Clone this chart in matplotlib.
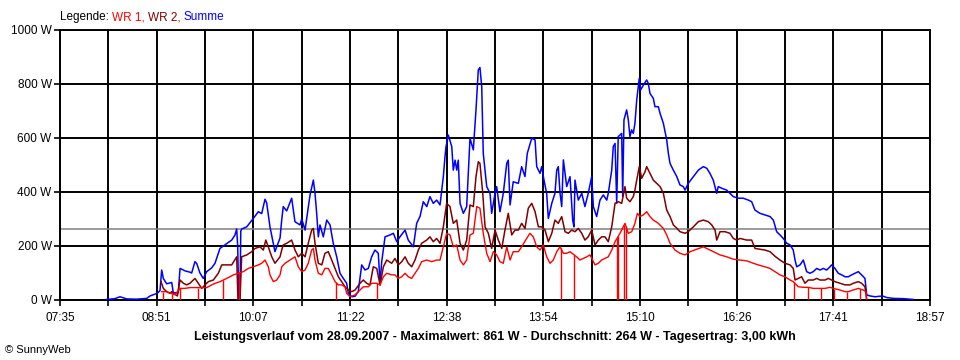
import numpy as np
import matplotlib
matplotlib.use("Agg")
import matplotlib.pyplot as plt
from matplotlib.offsetbox import TextArea, HPacker, AnchoredOffsetbox

# time in minutes after midnight, power in W
summe_t = [491.6, 498.1, 502.0, 507.3, 515.1, 523.0, 525.6, 531.3, 533.4, 534.7, 536.0, 538.6, 542.6, 543.8,
           547.7, 549.1, 553.0, 556.9, 558.2, 560.8, 562.2, 564.7, 567.3, 570.0, 573.9, 576.5, 580.4, 584.3,
           589.6, 592.2, 593.5, 594.3, 595.1, 596.1, 596.7, 597.4, 601.4, 606.5, 610.5, 613.1, 615.7, 617.0,
           619.6, 622.2, 623.5, 627.5, 628.8, 630.0, 632.7, 636.6, 639.2, 643.1, 644.5, 647.1, 648.4, 651.0,
           653.6, 654.9, 656.2, 657.5, 658.8, 661.4, 664.1, 666.7, 669.2, 671.9, 674.5, 677.1, 679.7, 681.0,
           683.7, 686.3, 688.8, 691.5, 694.1, 696.7, 699.3, 701.9, 704.5, 705.9, 707.2, 709.8, 713.7, 716.3,
           719.0, 721.5, 725.5, 728.0, 732.0, 734.6, 737.2, 739.8, 742.5, 745.0, 747.6, 750.3, 752.9, 755.5,
           756.8, 757.6, 759.4, 762.1, 763.3, 764.7, 766.0, 767.2, 768.6, 771.2, 773.8, 776.4, 779.0, 781.1,
           782.9, 784.2, 785.6, 786.8, 789.5, 792.1, 793.4, 796.0, 797.3, 799.9, 802.5, 805.2, 806.4, 807.8,
           810.3, 814.3, 816.9, 819.5, 821.3, 824.8, 827.4, 828.7, 831.3, 832.6, 834.4, 836.5, 837.8, 840.5,
           843.0, 844.4, 845.6, 847.0, 848.3, 849.6, 852.2, 854.8, 856.9, 857.9, 858.7, 861.3, 864.0, 866.5,
           869.1, 871.8, 873.1, 875.7, 878.3, 880.9, 883.6, 884.8, 887.5, 888.7, 890.1, 891.4, 892.6, 895.3,
           896.1, 897.1, 899.2, 900.5, 901.8, 903.1, 904.4, 905.7, 907.1, 909.1, 910.2, 912.3, 914.9, 916.2,
           917.5, 920.1, 921.4, 924.0, 925.4, 928.0, 930.6, 931.9, 933.2, 935.8, 938.5, 941.0, 943.6, 945.0,
           947.5, 951.5, 955.4, 959.3, 962.0, 964.5, 967.1, 969.8, 971.0, 973.7, 977.6, 980.2, 982.8, 986.7,
           990.6, 994.6, 997.2, 999.8, 1003.7, 1007.6, 1011.6, 1014.2, 1016.8, 1019.4, 1022.0, 1024.7, 1027.3,
           1029.8, 1031.2, 1032.5, 1035.1, 1037.7, 1040.3, 1042.9, 1045.5, 1048.2, 1050.8, 1053.4, 1056.0,
           1058.6, 1059.9, 1062.5, 1065.1, 1067.8, 1070.4, 1072.9, 1075.6, 1078.2, 1080.8, 1083.4, 1086.0,
           1087.4, 1090.0, 1093.9, 1097.8, 1100.4, 1103.1, 1108.2, 1116.1, 1123.9]
summe_w = [2, 5, 12, 4, 3, 6, 15, 25, 35, 111, 80, 60, 65, 27,
           27, 117, 108, 103, 100, 142, 135, 100, 80, 105, 119, 136, 191, 204,
           222, 241, 263, 200, 0, 0, 255, 263, 271, 302, 327, 320, 373, 360,
           271, 210, 179, 230, 296, 346, 330, 377, 290, 278, 300, 259, 302, 389,
           444, 395, 321, 234, 278, 234, 296, 278, 210, 160, 99, 80, 62, 25,
           12, 14, 31, 130, 111, 117, 160, 185, 173, 62, 142, 234, 241, 247,
           216, 234, 259, 222, 197, 284, 309, 364, 346, 383, 358, 370, 352, 457,
           531, 568, 611, 568, 481, 518, 481, 518, 358, 321, 346, 599, 556, 704,
           852, 861, 790, 543, 420, 395, 321, 395, 420, 327, 395, 506, 518, 352,
           438, 432, 494, 457, 543, 599, 593, 494, 469, 494, 444, 395, 302, 358,
           395, 481, 494, 395, 346, 519, 420, 457, 296, 271, 444, 370, 395, 346,
           395, 457, 346, 309, 370, 389, 370, 395, 481, 568, 580, 358, 605, 617,
           383, 667, 704, 667, 605, 630, 617, 654, 741, 821, 778, 796, 815, 802,
           765, 747, 716, 716, 691, 654, 593, 543, 506, 481, 457, 426, 420, 407,
           432, 457, 481, 494, 488, 469, 444, 395, 420, 414, 407, 395, 383, 377,
           377, 370, 364, 333, 321, 315, 309, 296, 253, 241, 228, 210, 204,
           185, 148, 123, 130, 148, 105, 99, 105, 117, 111, 117, 111,
           123, 130, 117, 99, 93, 86, 86, 93, 99, 105, 93, 80,
           19, 15, 12, 14, 14, 9, 6, 5, 2]

wr2_t = [534.2, 536.0, 538.6, 541.2, 542.6, 543.8, 547.0, 549.1, 551.7, 554.3, 556.9, 560.8, 563.4, 566.1,
         568.7, 571.3, 575.2, 579.1, 581.8, 585.7, 589.6, 593.5, 594.5, 596.1, 597.4, 601.4, 605.3, 607.9,
         611.8, 614.4, 616.3, 618.3, 621.0, 623.5, 627.5, 628.8, 630.0, 632.7, 636.6, 639.2, 641.8, 644.5,
         647.1, 649.6, 652.3, 653.6, 654.9, 656.2, 657.5, 660.2, 662.7, 665.3, 668.0, 670.6, 673.2, 675.8,
         678.4, 681.0, 683.7, 686.3, 690.2, 692.8, 695.4, 698.0, 700.6, 703.3, 705.9, 708.5, 711.1, 715.0,
         717.6, 720.2, 722.9, 725.5, 728.0, 730.7, 733.3, 735.9, 738.5, 742.5, 745.0, 747.6, 750.3, 752.9,
         755.5, 758.1, 760.7, 763.3, 766.0, 768.6, 771.2, 773.8, 776.4, 779.0, 781.1, 782.9, 784.2, 786.4,
         788.2, 790.8, 793.4, 796.0, 798.6, 801.3, 803.8, 806.4, 809.1, 811.7, 814.3, 816.9, 819.5, 822.1,
         824.8, 827.4, 830.0, 832.6, 835.2, 837.8, 840.5, 843.0, 845.6, 848.3, 850.9, 853.5, 856.1, 858.7,
         861.3, 864.0, 866.5, 869.1, 871.8, 874.4, 877.0, 879.6, 882.2, 884.8, 887.5, 890.1, 892.6, 895.3,
         897.9, 899.2, 901.8, 904.4, 905.7, 907.1, 909.1, 911.0, 913.6, 914.9, 917.5, 920.1, 922.8, 925.4,
         928.0, 930.6, 933.2, 935.8, 938.5, 941.0, 945.0, 947.5, 951.5, 955.4, 959.3, 963.2, 965.9, 968.5,
         969.8, 972.4, 976.3, 980.2, 982.8, 985.5, 988.1, 993.3, 997.2, 999.8, 1003.7, 1007.6, 1011.6,
         1015.5, 1019.4, 1023.3, 1027.3, 1029.8, 1031.2, 1033.8, 1036.4, 1039.0, 1041.6, 1045.5, 1048.2,
         1050.8, 1054.7, 1057.3, 1060.0, 1062.5, 1066.4, 1070.4, 1074.3, 1076.9, 1080.8, 1083.4, 1086.0,
         1087.4]
wr2_w = [68, 43, 31, 25, 31, 25, 15, 74, 62, 56, 62, 80, 62, 43,
         56, 68, 74, 99, 130, 130, 130, 160, 0, 0, 160, 167, 179, 191,
         197, 185, 222, 197, 160, 136, 160, 185, 204, 210, 222, 185, 160, 173,
         160, 210, 259, 265, 210, 173, 136, 130, 173, 179, 148, 117, 86, 68,
         49, 37, 31, 37, 62, 74, 62, 56, 123, 117, 55, 123, 148, 136,
         154, 130, 142, 160, 136, 123, 148, 185, 210, 222, 234, 216, 228, 210,
         271, 358, 346, 284, 296, 210, 185, 222, 352, 346, 457, 512, 506, 395,
         271, 247, 191, 259, 222, 191, 259, 321, 241, 259, 259, 284, 265, 340,
         358, 327, 271, 271, 259, 216, 247, 296, 284, 309, 253, 247, 259, 253,
         265, 247, 222, 234, 259, 204, 222, 234, 234, 216, 271, 358, 364, 358,
         420, 377, 364, 383, 407, 444, 494, 451, 475, 494, 469, 444, 432, 420,
         395, 333, 309, 278, 266, 253, 247, 253, 271, 290, 296, 290, 278, 259,
         222, 253, 253, 247, 228, 222, 228, 222, 222, 191, 188, 185, 179,
         162, 148, 136, 130, 117, 74, 80, 86, 62, 74, 74, 80,
         74, 74, 80, 74, 68, 62, 56, 56, 62, 68, 62, 49,
         0]

wr1_t = [534.7, 538.6, 541.2, 545.2, 549.1, 553.0, 556.9, 560.8, 564.7, 570.0, 575.2, 580.4, 585.7, 590.9,
         594.8, 598.7, 602.6, 606.5, 610.5, 613.1, 615.7, 618.3, 619.6, 622.2, 624.9, 627.5, 628.8, 631.4,
         635.3, 639.2, 641.8, 644.5, 647.1, 649.6, 652.3, 653.6, 654.9, 657.5, 660.2, 662.7, 665.3, 668.0,
         670.6, 673.2, 675.8, 678.4, 679.7, 682.3, 686.3, 690.2, 692.8, 696.7, 699.3, 703.3, 705.9, 708.5,
         711.1, 715.0, 717.6, 720.2, 722.9, 725.5, 728.0, 730.7, 733.3, 735.9, 738.5, 742.5, 746.4, 750.3,
         752.9, 755.5, 758.1, 760.7, 763.3, 766.0, 768.6, 771.2, 773.8, 776.4, 779.0, 781.7, 784.2, 786.8,
         789.5, 792.1, 794.7, 797.3, 799.9, 802.5, 805.2, 807.8, 810.3, 814.3, 816.9, 820.8, 823.4, 826.0,
         828.7, 831.3, 833.9, 836.5, 839.1, 841.7, 844.4, 847.0, 849.6, 852.2, 854.8, 860.0, 862.6, 865.2,
         867.9, 870.5, 874.4, 877.0, 879.6, 882.2, 884.8, 887.5, 890.1, 894.0, 897.9, 900.5, 903.2, 905.7,
         907.6, 909.7, 912.2, 914.9, 917.5, 920.1, 924.0, 928.0, 930.6, 933.2, 937.1, 941.0, 945.0, 948.9,
         954.1, 959.3, 963.2, 967.1, 972.4, 977.6, 982.8, 988.1, 993.3, 998.5, 1003.7, 1007.6, 1011.6,
         1015.5, 1019.4, 1023.3, 1027.3, 1029.8, 1033.8, 1037.7, 1041.6, 1045.5, 1049.4, 1054.7, 1058.6,
         1061.2, 1066.4, 1070.4, 1072.9, 1076.9, 1080.8, 1084.7, 1086.8, 1087.4]
wr1_w = [31, 31, 25, 20, 43, 43, 46, 46, 46, 46, 59, 68, 80, 93,
         99, 105, 117, 123, 130, 136, 148, 123, 93, 68, 74, 93, 123, 136,
         148, 160, 123, 105, 111, 136, 185, 191, 148, 99, 93, 117, 117, 93,
         68, 56, 56, 49, 25, 12, 19, 37, 49, 49, 62, 62, 56, 86,
         99, 93, 93, 80, 86, 99, 86, 80, 99, 117, 142, 148, 142, 148,
         148, 197, 247, 241, 197, 204, 148, 130, 148, 241, 247, 346, 340, 247,
         173, 142, 179, 167, 142, 136, 197, 148, 179, 179, 197, 228, 247, 234,
         197, 185, 204, 160, 136, 148, 179, 197, 173, 173, 179, 160, 148, 154,
         160, 167, 130, 136, 148, 154, 160, 185, 216, 247, 284, 247, 253, 284,
         321, 309, 315, 327, 309, 296, 284, 265, 241, 210, 185, 173, 167, 179,
         188, 197, 188, 179, 167, 160, 151, 148, 145, 136, 128, 123, 117,
         105, 93, 86, 74, 68, 49, 47, 47, 43, 43, 43, 47,
         43, 37, 31, 31, 37, 43, 37, 31, 0]

# short drop-outs of WR 1 to 0 W
wr1_drops = [535.4, 542.6, 549.1, 563.2, 582.8, 595.3, 671.0, 703.5, 847.5, 857.9,
             891.6, 892.8, 897.3, 898.5, 1030.4, 1041.4, 1051.6, 1061.8, 1072.0, 1082.2]

avg_w = 264
y_ticks = [0, 200, 400, 600, 800, 1000]
x_labels = ["07:35", "08:51", "10:07", "11:22", "12:38", "13:54", "15:10", "16:26", "17:41", "18:57"]
t_start, t_end = 455, 1137

plt.rcParams['font.family'] = ['Liberation Sans', 'DejaVu Sans']

fig = plt.figure(figsize=(9.6, 3.6), dpi=100)
ax = fig.add_axes([60/960, 60/360, 870/960, 270/360])

ax.set_xlim(t_start, t_end)
ax.set_ylim(0, 1000)

grid_t = np.linspace(t_start, t_end, 19)
ax.set_xticks(grid_t)
ax.set_xticklabels([x_labels[i // 2] if i % 2 == 0 else "" for i in range(19)])
ax.set_yticks(y_ticks)
ax.set_yticklabels([f"{v} W" for v in y_ticks])
ax.tick_params(direction='out', length=4, width=1.2, colors='black', labelsize=8.5, pad=2)
ax.tick_params(axis='x', pad=4.5)
ax.grid(True, color='black', linewidth=1.4)
ax.set_axisbelow(True)
for s in ax.spines.values():
    s.set_linewidth(1.4)
    s.set_color('black')

ax.axhline(avg_w, color='#808080', lw=1.1, zorder=1.5)

ax.plot(summe_t, summe_w, color='#0000ff', lw=1.1, zorder=3)
ax.plot(wr2_t, wr2_w, color='#800000', lw=1.1, zorder=4)
ax.plot(wr1_t, wr1_w, color='#ff0000', lw=1.0, zorder=5)
ax.vlines(wr1_drops, 0, np.interp(wr1_drops, wr1_t, wr1_w), color='#ff0000', lw=1.0, zorder=5)

# legend line at the top
parts = [("Legende: ", 'black'), ("WR 1, ", '#ff0000'), ("WR 2, ", '#800000'), ("Summe", '#0000ff')]
boxes = [TextArea(s, textprops=dict(color=c, fontsize=8.5)) for s, c in parts]
pack = HPacker(children=boxes, align="baseline", pad=0, sep=0)
anch = AnchoredOffsetbox(loc='lower left', child=pack, pad=0, frameon=False,
                         bbox_to_anchor=(60/960, 1 - 23/360), bbox_transform=fig.transFigure,
                         borderpad=0)
fig.add_artist(anch)

fig.text(495/960, 1 - 337/360,
         "Leistungsverlauf vom 28.09.2007 - Maximalwert: 861 W - Durchschnitt: 264 W - Tagesertrag: 3,00 kWh",
         ha='center', va='center', fontsize=9, fontweight='bold')
fig.text(5/960, 1 - 350/360, "© SunnyWeb", ha='left', va='center', fontsize=8)

fig.savefig("out.png", dpi=100)
